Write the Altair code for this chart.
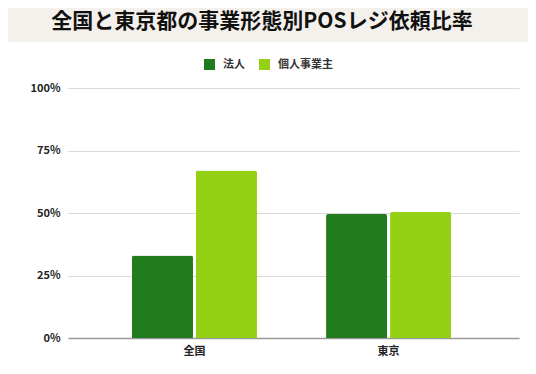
import altair as alt
import pandas as pd

regions = ["全国", "東京"]
types = ["法人", "個人事業主"]
corp = [0.33, 0.496]
indiv = [0.67, 0.504]
y_ticks = [0, 0.25, 0.5, 0.75, 1.0]
title_text = "全国と東京都の事業形態別POSレジ依頼比率"
colors = ["#217c1e", "#94d014"]

rows = []
for i, r in enumerate(regions):
    rows.append({"region": r, "type": types[0], "value": corp[i]})
    rows.append({"region": r, "type": types[1], "value": indiv[i]})
df = pd.DataFrame(rows)

FONT = "Noto Sans CJK JP"

band = alt.Chart(pd.DataFrame({"a": [0]})).mark_rect(color="#f4f1ec").encode(
    x=alt.value(-60), x2=alt.value(460), y=alt.value(-80), y2=alt.value(-46)
)

title = alt.Chart(pd.DataFrame({"t": [title_text]})).mark_text(
    font=FONT, fontSize=21, fontWeight="bold", color="#111", align="center", baseline="middle"
).encode(text="t:N", x=alt.value(194), y=alt.value(-66))

bars = alt.Chart(df).mark_bar(cornerRadiusTopLeft=2, cornerRadiusTopRight=2).encode(
    x=alt.X(
        "region:N", sort=regions, title=None,
        scale=alt.Scale(paddingInner=0.356, paddingOuter=0.34, align=0.485),
        axis=alt.Axis(labelAngle=0, ticks=False, domain=True, domainColor="#999", domainWidth=1.5,
                      labelPadding=7, labelFontSize=11, labelFontWeight="bold", labelColor="#222",
                      labelFont=FONT, grid=False),
    ),
    xOffset=alt.XOffset("type:N", sort=types, scale=alt.Scale(paddingInner=0.047)),
    y=alt.Y(
        "value:Q", title=None, scale=alt.Scale(domain=[0, 1]),
        axis=alt.Axis(values=y_ticks, format=".0%", domain=False, ticks=False, labelPadding=8,
                      labelFontSize=11, labelFontWeight="bold", labelColor="#222", labelFont=FONT,
                      gridColor="#d9d9d9", gridWidth=1),
    ),
    color=alt.Color(
        "type:N", sort=types, scale=alt.Scale(domain=types, range=colors),
        legend=alt.Legend(title=None, orient="none", legendX=136, legendY=-29, direction="horizontal",
                          symbolType="square", symbolSize=121, symbolStrokeWidth=0, labelFontSize=11,
                          labelFontWeight="bold", labelColor="#333", labelFont=FONT, labelOffset=8,
                          columnPadding=14),
    ),
)

chart = alt.layer(band, title, bars).properties(
    width=451, height=250,
    autosize=alt.AutoSizeParams(type="none"),
    padding={"left": 60, "top": 80, "right": 9, "bottom": 28},
    background="white",
).configure_view(stroke=None)

chart.save("out.html", embed_options={"renderer": "svg", "actions": False})
